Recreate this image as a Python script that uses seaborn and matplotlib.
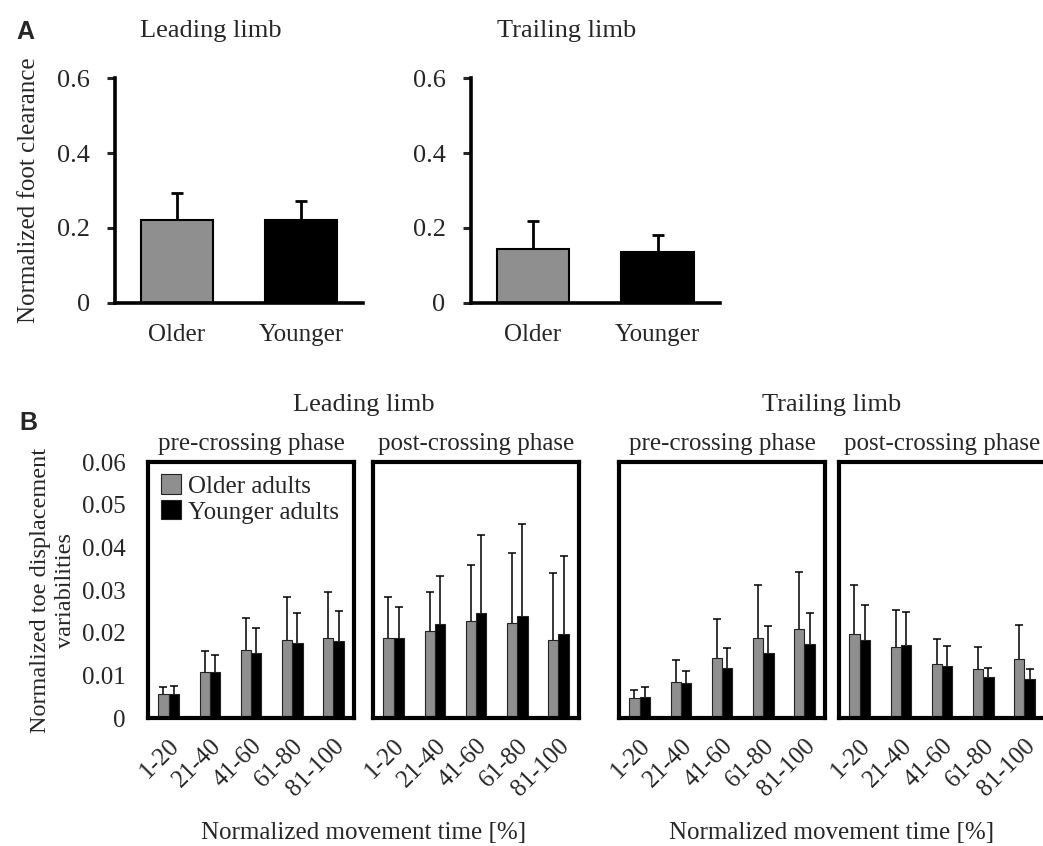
import numpy as np
import pandas as pd
import matplotlib
matplotlib.use('Agg')
import matplotlib.pyplot as plt
import seaborn as sns

# ---- data ----
a_groups = ['Older', 'Younger']
a_lead_mean = [0.221, 0.221]
a_lead_sd = [0.073, 0.051]
a_trail_mean = [0.144, 0.136]
a_trail_sd = [0.074, 0.044]
a_yticks = [0, 0.2, 0.4, 0.6]
a_yticklabels = ['0', '0.2', '0.4', '0.6']

bins = ['1-20', '21-40', '41-60', '61-80', '81-100']
hue_names = ['Older adults', 'Younger adults']
lead_pre_old = [0.0056, 0.0108, 0.0160, 0.0183, 0.0188]
lead_pre_old_sd = [0.0016, 0.0048, 0.0075, 0.0100, 0.0107]
lead_pre_young = [0.0056, 0.0108, 0.0152, 0.0176, 0.0180]
lead_pre_young_sd = [0.0020, 0.0040, 0.0060, 0.0071, 0.0071]
lead_post_old = [0.0188, 0.0204, 0.0228, 0.0223, 0.0183]
lead_post_old_sd = [0.0095, 0.0091, 0.0131, 0.0163, 0.0156]
lead_post_young = [0.0188, 0.0220, 0.0247, 0.0240, 0.0196]
lead_post_young_sd = [0.0071, 0.0112, 0.0181, 0.0215, 0.0183]
trail_pre_old = [0.0046, 0.0085, 0.0141, 0.0188, 0.0208]
trail_pre_old_sd = [0.0020, 0.0052, 0.0090, 0.0123, 0.0134]
trail_pre_young = [0.0049, 0.0081, 0.0117, 0.0153, 0.0173]
trail_pre_young_sd = [0.0024, 0.0028, 0.0047, 0.0062, 0.0074]
trail_post_old = [0.0198, 0.0166, 0.0127, 0.0115, 0.0138]
trail_post_old_sd = [0.0113, 0.0087, 0.0059, 0.0051, 0.0080]
trail_post_young = [0.0182, 0.0170, 0.0122, 0.0096, 0.0091]
trail_post_young_sd = [0.0083, 0.0078, 0.0047, 0.0022, 0.0023]
b_yticks = [0, 0.01, 0.02, 0.03, 0.04, 0.05, 0.06]
b_yticklabels = ['0', '0.01', '0.02', '0.03', '0.04', '0.05', '0.06']

GRAY = '#8f8f8f'
BLACK = '#000000'
FS = 18

sns.set_style('white')
plt.rcParams['font.family'] = ['Liberation Serif', 'DejaVu Serif']

fig = plt.figure(figsize=(10.43, 8.46), dpi=100)
W, H = 1043, 846

def px_axes(x0, y0, x1, y1):
    return fig.add_axes([x0 / W, 1 - y1 / H, (x1 - x0) / W, (y1 - y0) / H])


def add_upper_err(ax, xs, ys, sd, lw, cap):
    sd = np.asarray(sd)
    _, caps, _ = ax.errorbar(xs, ys, yerr=[np.zeros_like(sd), sd], fmt='none',
                             ecolor='black', elinewidth=lw, capsize=cap,
                             capthick=lw, zorder=1)
    caps[0].set_visible(False)


# ---- panel A ----
def panel_a(ax, means, sds, title):
    df = pd.DataFrame({'group': a_groups, 'value': means})
    sns.barplot(data=df, x='group', y='value', hue='group', palette=[GRAY, BLACK],
                width=0.58, errorbar=None, edgecolor='black', linewidth=1.5,
                legend=False, ax=ax, zorder=2)
    bars = [p for c in ax.containers for p in c]
    xs = [p.get_x() + p.get_width() / 2 for p in bars]
    ys = [p.get_height() for p in bars]
    add_upper_err(ax, xs, ys, sds, 2.0, 4)
    ax.set_xlim(-0.5, 1.5)
    ax.set_ylim(0, 0.6)
    ax.set_yticks(a_yticks)
    ax.set_yticklabels(a_yticklabels)
    ax.set_xlabel('')
    ax.set_ylabel('')
    for s in ['top', 'right']:
        ax.spines[s].set_visible(False)
    for s in ['left', 'bottom']:
        ax.spines[s].set_linewidth(2.6)
        ax.spines[s].set_color('black')
    ax.tick_params(axis='y', direction='out', length=6, width=2.2, pad=12,
                   labelsize=FS + 1, left=True)
    ax.tick_params(axis='x', length=0, pad=15, labelsize=FS)
    ax.set_title(title, fontsize=FS + 1, pad=30, x=0.385)


axA1 = px_axes(115, 78.3, 363, 302.7)
axA2 = px_axes(470.5, 78.3, 720, 302.7)
panel_a(axA1, a_lead_mean, a_lead_sd, 'Leading limb')
panel_a(axA2, a_trail_mean, a_trail_sd, 'Trailing limb')
axA1.set_ylabel('Normalized foot clearance', fontsize=FS, labelpad=12)
fig.text(25 / W, 1 - 32 / H, 'A', fontsize=18, fontweight='bold',
         family='Liberation Sans', ha='center', va='center')


# ---- panel B ----
def panel_b(ax, old, old_sd, young, young_sd, title, legend=False):
    df = pd.DataFrame({
        'bin': bins * 2,
        'value': old + young,
        'group': [hue_names[0]] * len(bins) + [hue_names[1]] * len(bins),
    })
    sns.barplot(data=df, x='bin', y='value', hue='group', palette=[GRAY, BLACK],
                width=0.5, errorbar=None, edgecolor='#222222', linewidth=0.8,
                ax=ax, zorder=2, legend=legend)
    for c, sd in zip(ax.containers, [old_sd, young_sd]):
        xs = [p.get_x() + p.get_width() / 2 for p in c]
        ys = [p.get_height() for p in c]
        add_upper_err(ax, xs, ys, sd, 1.1, 3.2)
    ax.set_xlim(-0.5, 4.5)
    ax.set_ylim(0, 0.06)
    ax.set_xlabel('')
    ax.set_ylabel('')
    for s in ax.spines.values():
        s.set_visible(True)
        s.set_linewidth(3)
        s.set_color('black')
    ax.set_xticks(range(len(bins)))
    ax.set_xticklabels(bins, rotation=45, ha='right', rotation_mode='anchor')
    ax.tick_params(axis='x', length=0, pad=12, labelsize=FS)
    ax.set_yticks(b_yticks)
    ax.set_yticklabels(b_yticklabels)
    ax.tick_params(axis='y', length=0, pad=16, labelsize=FS)
    ax.set_title(title, fontsize=FS, pad=9)
    if legend:
        ax.legend(loc='upper left', frameon=False, fontsize=FS, handlelength=0.8,
                  handleheight=0.8, handletextpad=0.3, labelspacing=0.1,
                  borderaxespad=0.3, borderpad=0.2)


axB1 = px_axes(148, 462, 354, 718)
axB2 = px_axes(373, 462, 579, 718)
axB3 = px_axes(619, 462, 825, 718)
axB4 = px_axes(839, 462, 1045, 718)
panel_b(axB1, lead_pre_old, lead_pre_old_sd, lead_pre_young, lead_pre_young_sd,
        'pre-crossing phase', legend=True)
panel_b(axB2, lead_post_old, lead_post_old_sd, lead_post_young, lead_post_young_sd,
        'post-crossing phase')
panel_b(axB3, trail_pre_old, trail_pre_old_sd, trail_pre_young, trail_pre_young_sd,
        'pre-crossing phase')
panel_b(axB4, trail_post_old, trail_post_old_sd, trail_post_young, trail_post_young_sd,
        'post-crossing phase')
for ax in [axB2, axB3, axB4]:
    ax.set_yticklabels([])

axB1.set_ylabel('Normalized toe displacement\nvariabilities', fontsize=17.5,
                linespacing=1.3, labelpad=4)

for a1, a2, label in [(axB1, axB2, 'Leading limb'), (axB3, axB4, 'Trailing limb')]:
    xc = (a1.get_position().x0 + a2.get_position().x1) / 2
    fig.text(xc, 1 - 405 / H, label, fontsize=FS + 1, ha='center', va='center')
    fig.text(xc, 1 - 833 / H, 'Normalized movement time [%]', fontsize=FS,
             ha='center', va='center')

fig.text(28 / W, 1 - 423 / H, 'B', fontsize=18, fontweight='bold',
         family='Liberation Sans', ha='center', va='center')

fig.savefig('out.png', dpi=100)
